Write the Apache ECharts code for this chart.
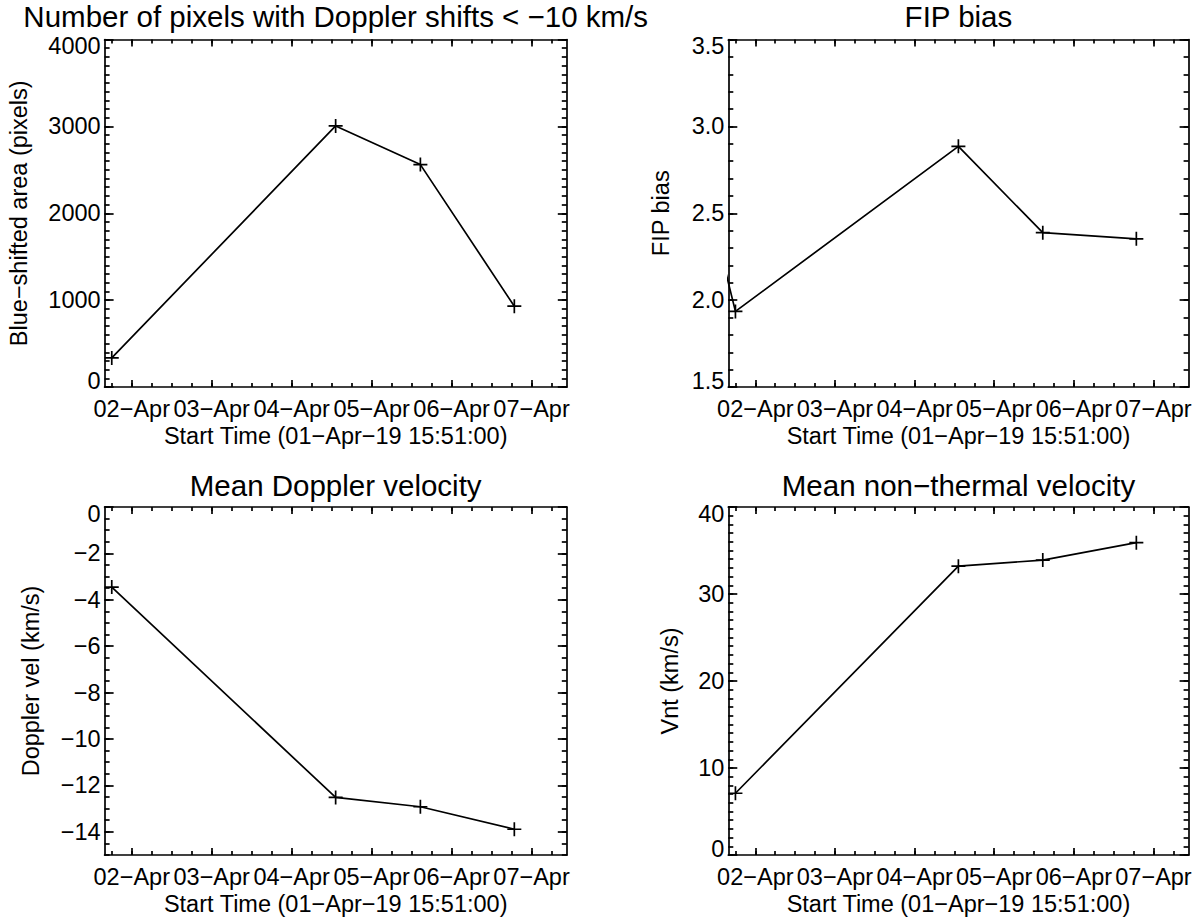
<!DOCTYPE html>
<html>
<head>
<meta charset="utf-8">
<script src="https://cdn.jsdelivr.net/npm/echarts@6/dist/echarts.min.js"></script>
<style>
html,body{margin:0;padding:0;background:#fff;}
#chart{width:1200px;height:918px;}
</style>
</head>
<body>
<div id="chart"></div>
<script>
// ---------------- data ----------------
const axisStart = '2019-04-01 15:51';
const axisEnd = '2019-04-07 10:35';
const dayTickTimes = ['2019-04-02 00:00','2019-04-03 00:00','2019-04-04 00:00','2019-04-05 00:00','2019-04-06 00:00','2019-04-07 00:00'];
const dayTickLabels = ['02\u2212Apr','03\u2212Apr','04\u2212Apr','05\u2212Apr','06\u2212Apr','07\u2212Apr'];

const obsTimes = ['2019-04-01 18:00','2019-04-04 13:12','2019-04-05 14:38','2019-04-06 18:50'];
const blueShiftedArea = [335, 3005, 2560, 930];
const fipTimes = ['2019-04-01 12:00','2019-04-01 18:00','2019-04-04 13:12','2019-04-05 14:38','2019-04-06 18:50'];
const fipBias = [2.40, 1.935, 2.885, 2.388, 2.353];
const dopplerVel = [-3.45, -12.52, -12.92, -13.89];
const vntVel = [7.1, 33.2, 33.9, 35.9];

const areaTicks = [0, 1000, 2000, 3000, 4000];
const fipTicks = [1.5, 2.0, 2.5, 3.0, 3.5];
const dopTicks = [-14, -12, -10, -8, -6, -4, -2, 0];
const vntTicks = [0, 10, 20, 30, 40];

const panelTitles = ['Number of pixels with Doppler shifts < \u221210 km/s', 'FIP bias', 'Mean Doppler velocity', 'Mean non\u2212thermal velocity'];
const yNames = ['Blue\u2212shifted area (pixels)', 'FIP bias', 'Doppler vel (km/s)', 'Vnt (km/s)'];
const xName = 'Start Time (01\u2212Apr\u221219 15:51:00)';

// ---------------- helpers ----------------
function toDay(s) {
  const [d, t] = s.split(' ');
  const [Y, M, D] = d.split('-').map(Number);
  const [h, m] = t.split(':').map(Number);
  return (Date.UTC(Y, M - 1, D, h, m) - Date.UTC(2019, 3, 2)) / 86400000;
}
const xMin = toDay(axisStart), xMax = toDay(axisEnd);
const majorDays = dayTickTimes.map(toDay);
const minorDays = [];
for (let k = Math.ceil(xMin * 4); k <= Math.floor(xMax * 4); k++) minorDays.push(k / 4);

function minorRange(min, max, step) {
  const out = [];
  const n = Math.round((max - min) / step);
  for (let k = 0; k <= n; k++) out.push(+(min + k * step).toFixed(6));
  return out;
}
const fmtMinus = s => String(s).replace('-', '\u2212');

const FONT = "'Liberation Sans', Arial, Helvetica, sans-serif";
const LS = 23.5, TS = 29.5;
const black = '#000';
const lw = 1.7;

const panels = [
  {grid:{left:104.6, top:39.5, width:462.2, height:347.5}, times:obsTimes, vals:blueShiftedArea, ymin:0, ymax:4000, ticks:areaTicks, minorStep:100, fmt:v=>String(v), nameGap:74},
  {grid:{left:728.3, top:39.5, width:460.3, height:347.5}, times:fipTimes, vals:fipBias, ymin:1.5, ymax:3.5, ticks:fipTicks, minorStep:0.1, fmt:v=>v.toFixed(1), nameGap:55},
  {grid:{left:104.6, top:507, width:462.2, height:348}, times:obsTimes, vals:dopplerVel, ymin:-15, ymax:0, ticks:dopTicks, minorStep:0.5, fmt:v=>fmtMinus(v), nameGap:62},
  {grid:{left:728.3, top:507, width:460.3, height:348}, times:obsTimes, vals:vntVel, ymin:0, ymax:40, ticks:vntTicks, minorStep:1, fmt:v=>String(v), nameGap:46}
];

const grids = [], xAxes = [], yAxes = [], series = [], titles = [];
const lineStyle = {color: black, width: lw};
const textBase = {color: black, fontFamily: FONT, fontSize: LS};

panels.forEach((p, i) => {
  grids.push(Object.assign({outerBoundsMode: 'none', containLabel: false}, p.grid));
  const xBase = {gridIndex: i, type: 'value', min: xMin, max: xMax, splitLine: {show: false}, silent: true};
  xAxes.push(Object.assign({}, xBase, {
    position: 'bottom',
    axisLine: {show: true, onZero: false, lineStyle},
    axisTick: {show: true, inside: true, length: 7, customValues: majorDays, lineStyle},
    axisLabel: Object.assign({show: true, customValues: majorDays, margin: 9.5,
      formatter: v => dayTickLabels[majorDays.findIndex(d => Math.abs(d - v) < 1e-6)]}, textBase),
    name: xName, nameLocation: 'middle', nameGap: 36.5, nameMoveOverlap: false,
    nameTextStyle: Object.assign({}, textBase)
  }));
  xAxes.push(Object.assign({}, xBase, {
    position: 'bottom', axisLine: {show: false, onZero: false},
    axisTick: {show: true, inside: true, length: 4, customValues: minorDays, lineStyle},
    axisLabel: {show: false}
  }));
  xAxes.push(Object.assign({}, xBase, {
    position: 'top', axisLine: {show: true, onZero: false, lineStyle},
    axisTick: {show: true, inside: true, length: 7, customValues: majorDays, lineStyle},
    axisLabel: {show: false}
  }));
  xAxes.push(Object.assign({}, xBase, {
    position: 'top', axisLine: {show: false, onZero: false},
    axisTick: {show: true, inside: true, length: 4, customValues: minorDays, lineStyle},
    axisLabel: {show: false}
  }));

  const yMinor = minorRange(p.ymin, p.ymax, p.minorStep);
  const yBase = {gridIndex: i, type: 'value', min: p.ymin, max: p.ymax, splitLine: {show: false}, silent: true};
  const richCommon = Object.assign({}, textBase);
  yAxes.push(Object.assign({}, yBase, {
    position: 'left',
    axisLine: {show: true, onZero: false, lineStyle},
    axisTick: {show: true, inside: true, length: 9, customValues: p.ticks, lineStyle},
    axisLabel: Object.assign({show: true, customValues: p.ticks, margin: 4,
      formatter: v => {
        const t = p.fmt(v);
        if (Math.abs(v - p.ymax) < 1e-9) return '{hi|' + t + '}';
        if (Math.abs(v - p.ymin) < 1e-9) return '{lo|' + t + '}';
        return t;
      },
      rich: {
        hi: Object.assign({padding: [13, 0, 0, 0]}, richCommon),
        lo: Object.assign({padding: [0, 0, 13, 0]}, richCommon)
      }}, textBase),
    name: yNames[i], nameLocation: 'middle', nameGap: p.nameGap, nameMoveOverlap: false,
    nameTextStyle: Object.assign({}, textBase)
  }));
  yAxes.push(Object.assign({}, yBase, {
    position: 'left', axisLine: {show: false, onZero: false},
    axisTick: {show: true, inside: true, length: 5, customValues: yMinor, lineStyle},
    axisLabel: {show: false}
  }));
  yAxes.push(Object.assign({}, yBase, {
    position: 'right', axisLine: {show: true, onZero: false, lineStyle},
    axisTick: {show: true, inside: true, length: 9, customValues: p.ticks, lineStyle},
    axisLabel: {show: false}
  }));
  yAxes.push(Object.assign({}, yBase, {
    position: 'right', axisLine: {show: false, onZero: false},
    axisTick: {show: true, inside: true, length: 5, customValues: yMinor, lineStyle},
    axisLabel: {show: false}
  }));

  series.push({
    type: 'line',
    xAxisIndex: 4 * i, yAxisIndex: 4 * i,
    data: p.times.map((t, k) => [toDay(t), p.vals[k]]),
    symbol: 'path://M0,7 L14,7 M7,0 L7,14',
    symbolSize: 14,
    showAllSymbol: true,
    clip: true,
    lineStyle: {color: black, width: lw},
    itemStyle: {color: black, borderColor: black, borderWidth: lw},
    emphasis: {disabled: true},
    silent: true,
    animation: false
  });

  titles.push({
    text: panelTitles[i],
    left: p.grid.left + p.grid.width / 2,
    top: i < 2 ? 16.5 : 485,
    textAlign: 'center',
    textVerticalAlign: 'middle',
    padding: 0,
    textStyle: {color: black, fontFamily: FONT, fontSize: TS, fontWeight: 'normal'}
  });
});

const chart = echarts.init(document.getElementById('chart'), null, {renderer: 'svg'});
chart.setOption({
  backgroundColor: '#fff',
  animation: false,
  title: titles,
  grid: grids,
  xAxis: xAxes,
  yAxis: yAxes,
  series: series
});
</script>
</body>
</html>
